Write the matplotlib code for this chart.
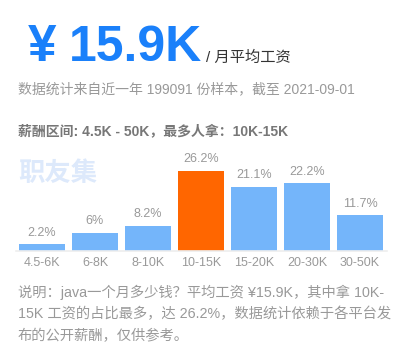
import matplotlib
matplotlib.use("Agg")
import matplotlib.pyplot as plt

plt.rcParams['font.family'] = ['Liberation Sans', 'Noto Sans CJK SC', 'DejaVu Sans']

# data
categories = ["4.5-6K", "6-8K", "8-10K", "10-15K", "15-20K", "20-30K", "30-50K"]
shares = [2.2, 6, 8.2, 26.2, 21.1, 22.2, 11.7]
share_labels = ["2.2%", "6%", "8.2%", "26.2%", "21.1%", "22.2%", "11.7%"]
top_index = 3

W, H = 406, 359
fig = plt.figure(figsize=(W / 100, H / 100), dpi=100)
fig.patch.set_facecolor("white")

def fx(px):
    return px / W

def fy(py):
    return 1 - py / H

# header texts
fig.text(fx(28), fy(61), "¥", fontsize=37, fontweight="bold", color="#1a80fa", va="baseline", ha="left")
fig.text(fx(69), fy(61), "15.9K", fontsize=36, fontweight="bold", color="#1a80fa", va="baseline", ha="left")
fig.text(fx(206), fy(62), "/ 月平均工资", fontsize=11, color="#333333", va="baseline", ha="left")
fig.text(fx(18), fy(93), "数据统计来自近一年 199091 份样本，截至 2021-09-01", fontsize=10, color="#999999", va="baseline", ha="left")
fig.text(fx(18), fy(135), "薪酬区间: 4.5K - 50K，最多人拿：10K-15K", fontsize=10, fontweight="bold", color="#777777", va="baseline", ha="left")

# watermark
fig.text(fx(18), fy(174), "职友集", fontsize=19, fontweight="bold", color="#dde9fb", va="center", ha="left")

# bar chart
ax = fig.add_axes([fx(15.5), fy(251), fx(371), 101 / H])
colors = ["#ff6600" if i == top_index else "#74b5fa" for i in range(len(shares))]
x = range(len(categories))
ax.bar(x, shares, width=0.868, color=colors)
for i, v in enumerate(shares):
    ax.annotate(share_labels[i], (i, v), xytext=(0, 4), textcoords="offset points",
                ha="center", va="bottom", fontsize=9, color="#999999")
ax.set_xlim(-0.5, len(categories) - 0.5)
ax.set_ylim(0, 33.1)
ax.set_xticks(list(x))
ax.set_xticklabels(categories, fontsize=9, color="#999999")
ax.tick_params(axis="x", length=0, pad=4)
ax.set_yticks([])
for s in ["top", "right", "left"]:
    ax.spines[s].set_visible(False)
ax.spines["bottom"].set_color("#eeeeee")
ax.spines["bottom"].set_linewidth(1.2)
ax.patch.set_alpha(0)

# description
desc_lines = [
    "说明：java一个月多少钱？平均工资 ¥15.9K，其中拿 10K-",
    "15K 工资的占比最多，达 26.2%，数据统计依赖于各平台发",
    "布的公开薪酬，仅供参考。",
]
for k, line in enumerate(desc_lines):
    fig.text(fx(18), fy(292 + 22 * k), line, fontsize=10.3, color="#999999", va="center", ha="left")

fig.savefig("out.png", dpi=100)
